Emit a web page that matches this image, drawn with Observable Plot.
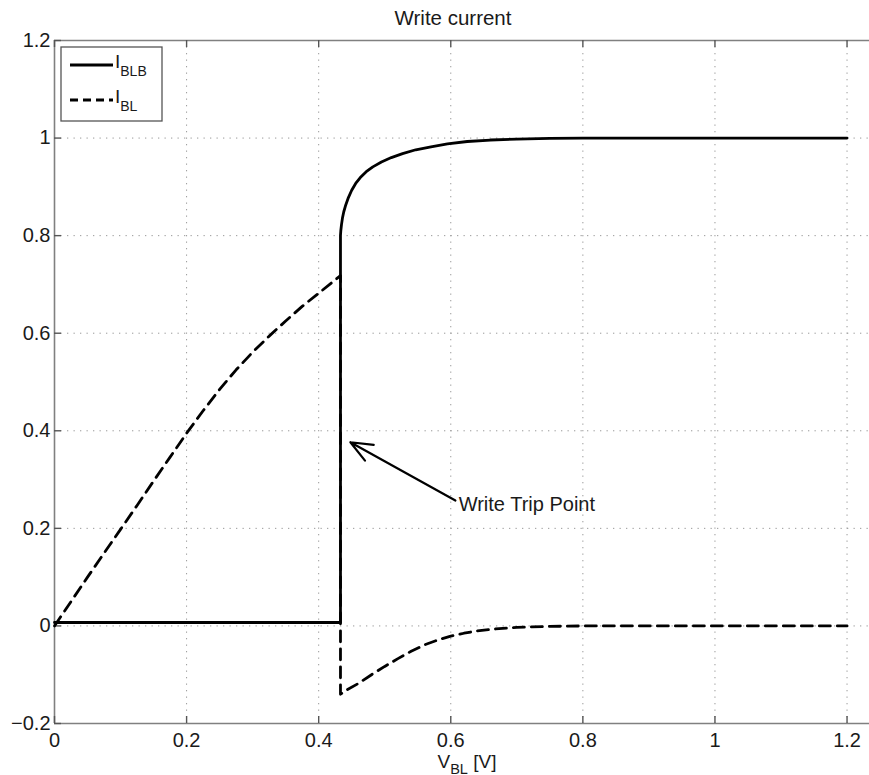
<!DOCTYPE html>
<html><head><meta charset="utf-8">
<script src="https://cdn.jsdelivr.net/npm/d3@7"></script>
<script src="https://cdn.jsdelivr.net/npm/@observablehq/plot@0.6"></script>
<style>html,body{margin:0;padding:0;background:#fff;} svg{display:block}</style>
</head><body><div id="chart"></div>
<script>
// ---- data ----
const title = "Write current";
const xLabel = "V_{BL} [V]";
const xTicks = [0, 0.2, 0.4, 0.6, 0.8, 1, 1.2];
const xTickLabels = ["0", "0.2", "0.4", "0.6", "0.8", "1", "1.2"];
const yTicks = [-0.2, 0, 0.2, 0.4, 0.6, 0.8, 1, 1.2];
const yTickLabels = ["\u22120.2", "0", "0.2", "0.4", "0.6", "0.8", "1", "1.2"];
const seriesNames = ["I_{BLB}", "I_{BL}"];

// I_BLB (solid)
const vBLB = [0, 0.433, 0.433, 0.4335, 0.4345, 0.436, 0.438, 0.441, 0.445, 0.45, 0.456, 0.463, 0.472, 0.482, 0.495, 0.51, 0.527, 0.547, 0.57, 0.595, 0.625, 0.66, 0.7, 0.75, 0.8, 1.2];
const iBLB = [0.007, 0.007, 0.8, 0.81, 0.822, 0.836, 0.849, 0.863, 0.878, 0.893, 0.907, 0.919, 0.931, 0.941, 0.951, 0.96, 0.968, 0.976, 0.982, 0.988, 0.993, 0.996, 0.998, 0.9995, 1.0, 1.0];

// I_BL (dashed)
const vBL = [0, 0.025, 0.05, 0.075, 0.1, 0.125, 0.15, 0.175, 0.2, 0.225, 0.25, 0.275, 0.3, 0.325, 0.35, 0.375, 0.4, 0.433,
             0.433, 0.44, 0.46, 0.48, 0.5, 0.52, 0.54, 0.56, 0.58, 0.6, 0.62, 0.64, 0.66, 0.7, 0.75, 0.8, 1.2];
const iBL = [0, 0.05, 0.1, 0.149, 0.198, 0.247, 0.297, 0.346, 0.395, 0.441, 0.485, 0.525, 0.561, 0.594, 0.625, 0.655, 0.682, 0.718,
             -0.14, -0.133, -0.118, -0.1, -0.083, -0.067, -0.052, -0.039, -0.029, -0.021, -0.015, -0.01, -0.007, -0.003, -0.001, 0, 0];

const annotationText = "Write Trip Point";
const arrowTail = [0.607, 0.257];
const arrowHead = [0.448, 0.3765];
const annotationPos = [0.612, 0.2365];

// ---- layout ----
const W = 869, H = 775;
const mL = 54, mR = 0, mT = 40, mB = 52;
const xDomain = [0, 1.234];
const yDomain = [-0.2, 1.2];
const plotW = W - mL - mR, plotH = H - mT - mB;
const font = "'Liberation Sans', Arial, Helvetica, sans-serif";
const ink = "#1a1a1a";
const axisGray = "#808080";

const blb = vBLB.map((v, k) => ({v, i: iBLB[k]}));
const bl = vBL.map((v, k) => ({v, i: iBL[k]}));
const annot = [{x1: arrowTail[0], y1: arrowTail[1], x2: arrowHead[0], y2: arrowHead[1], tx: annotationPos[0], ty: annotationPos[1], label: annotationText}];

const chart = Plot.plot({
  width: W, height: H,
  marginLeft: mL, marginRight: mR, marginTop: mT, marginBottom: mB,
  style: {fontFamily: font, fontSize: "20px", color: ink, background: "#fff", overflow: "visible"},
  x: {domain: xDomain},
  y: {domain: yDomain},
  marks: [
    Plot.ruleX(xTicks.slice(1), {x: d => d, stroke: "#999", strokeWidth: 1, strokeDasharray: "1.3,5.2"}),
    Plot.ruleY(yTicks.slice(1, -1), {y: d => d, stroke: "#999", strokeWidth: 1, strokeDasharray: "1.3,5.2"}),
    Plot.ruleX([xDomain[0]], {x: d => d, stroke: axisGray, strokeWidth: 1.6}),
    Plot.ruleY([yDomain[0], yDomain[1]], {y: d => d, stroke: axisGray, strokeWidth: 1.6}),
    Plot.tickX(xTicks, {x: d => d, insetTop: plotH - 7, stroke: "#555", strokeWidth: 1.4}),
    Plot.tickX(xTicks, {x: d => d, insetBottom: plotH - 7, stroke: "#555", strokeWidth: 1.4}),
    Plot.tickY(yTicks, {y: d => d, insetRight: plotW - 7, stroke: "#555", strokeWidth: 1.4}),
    Plot.axisX({ticks: xTicks, tickFormat: d => xTickLabels[xTicks.indexOf(d)], tickSize: 0, tickPadding: 9, fontSize: 20, label: null, fill: ink}),
    Plot.axisY({ticks: yTicks, tickFormat: d => yTickLabels[yTicks.indexOf(d)], tickSize: 0, tickPadding: 4, fontSize: 20, label: null, fill: ink}),
    Plot.line(blb, {x: "v", y: "i", stroke: "#000", strokeWidth: 2.8}),
    Plot.line(bl, {x: "v", y: "i", stroke: "#000", strokeWidth: 2.8, strokeDasharray: "11,7"}),
    Plot.arrow(annot, {x1: "x1", y1: "y1", x2: "x2", y2: "y2", stroke: "#000", strokeWidth: 2.2, headLength: 16, headAngle: 45}),
    Plot.text(annot, {x: "tx", y: "ty", text: "label", textAnchor: "start", lineAnchor: "bottom", fontSize: 20, fill: ink}),
    Plot.text([title], {frameAnchor: "top", dx: -9, dy: -16, lineAnchor: "bottom", fontSize: 20.5, fill: ink}),
    Plot.text([xLabel], {frameAnchor: "bottom", textAnchor: "start", dx: -24.5, dy: 44, lineAnchor: "bottom", fontSize: 19, fill: ink})
  ]
});

// subscript rendering for "X_{sub}" strings
function applySub(el, str, subSize, shift) {
  const parts = str.split(/(_\{[^}]*\})/).filter(s => s);
  el.textContent = "";
  let down = false;
  for (const p of parts) {
    const m = p.match(/^_\{(.*)\}$/);
    const t = d3.select(el).append("tspan");
    if (m) {
      t.text(m[1]).attr("font-size", subSize);
      if (!down) { t.attr("dy", shift); down = true; }
    } else {
      t.text(p);
      if (down) { t.attr("dy", -shift); down = false; }
    }
  }
}

const svg = d3.select(chart);
svg.selectAll("text").each(function() {
  if (this.textContent === xLabel) applySub(this, xLabel, 14.5, 6);
});

// legend
const lg = svg.append("g").attr("font-family", font).attr("fill", ink).attr("text-anchor", "start");
const L = {x: 61, y: 47, w: 101, h: 74};
lg.append("rect").attr("x", L.x).attr("y", L.y).attr("width", L.w).attr("height", L.h)
  .attr("fill", "#fff").attr("stroke", "#555").attr("stroke-width", 1.3);
const rows = [{name: seriesNames[0], dash: null, ly: 65}, {name: seriesNames[1], dash: "8,5", ly: 100}];
rows.forEach(r => {
  lg.append("line").attr("x1", L.x + 9).attr("x2", L.x + 52).attr("y1", r.ly).attr("y2", r.ly)
    .attr("stroke", "#000").attr("stroke-width", 2.8).attr("stroke-dasharray", r.dash);
  const t = lg.append("text").attr("x", L.x + 54).attr("y", r.ly + 3).attr("font-size", 19).attr("text-anchor", "start");
  applySub(t.node(), r.name, 14, 8);
});

document.getElementById("chart").appendChild(chart);
</script>
</body></html>
